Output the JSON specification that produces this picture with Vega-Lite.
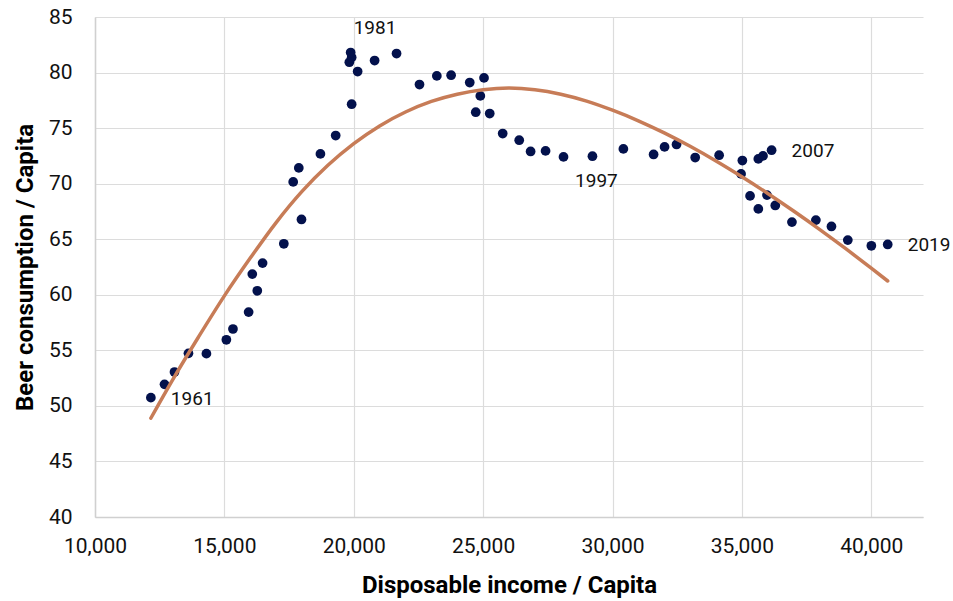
{
  "$schema": "https://vega.github.io/schema/vega-lite/v6.json",
  "width": 828,
  "height": 500,
  "autosize": {"type": "none"},
  "padding": {"left": 95, "top": 17, "right": 30, "bottom": 84},
  "background": "white",
  "config": {
    "view": {"stroke": null},
    "axis": {
      "labelFont": "Roboto",
      "labelFontSize": 21,
      "labelColor": "#111111",
      "labelFlush": false,
      "titleFont": "Roboto",
      "titleFontWeight": "bold",
      "titleFontSize": 24,
      "titleColor": "#000000",
      "ticks": false,
      "tickSize": 0,
      "domainColor": "#d0d0d0",
      "domainWidth": 1.5,
      "gridColor": "#dcdcdc",
      "gridWidth": 1.2
    }
  },
  "datasets": {
    "points": [
      {"income": 12159, "beer": 50.74, "label": "1961"},
      {"income": 12687, "beer": 51.94},
      {"income": 13072, "beer": 53.05},
      {"income": 13612, "beer": 54.73},
      {"income": 14306, "beer": 54.70},
      {"income": 15077, "beer": 55.95},
      {"income": 15332, "beer": 56.92},
      {"income": 15937, "beer": 58.44},
      {"income": 16079, "beer": 61.86},
      {"income": 16272, "beer": 60.36},
      {"income": 16477, "beer": 62.85},
      {"income": 17298, "beer": 64.59},
      {"income": 17660, "beer": 70.16},
      {"income": 17876, "beer": 71.42},
      {"income": 17980, "beer": 66.78},
      {"income": 18712, "beer": 72.68},
      {"income": 19302, "beer": 74.33},
      {"income": 19919, "beer": 77.15},
      {"income": 19830, "beer": 80.93},
      {"income": 19919, "beer": 81.35},
      {"income": 19881, "beer": 81.80, "label": "1981"},
      {"income": 20150, "beer": 80.09},
      {"income": 20806, "beer": 81.08},
      {"income": 21654, "beer": 81.71},
      {"income": 22541, "beer": 78.92},
      {"income": 23211, "beer": 79.70},
      {"income": 23763, "beer": 79.76},
      {"income": 24483, "beer": 79.10},
      {"income": 25035, "beer": 79.52},
      {"income": 24892, "beer": 77.90},
      {"income": 24715, "beer": 76.43},
      {"income": 25255, "beer": 76.31},
      {"income": 25756, "beer": 74.51},
      {"income": 26395, "beer": 73.91},
      {"income": 26835, "beer": 72.90},
      {"income": 27413, "beer": 72.95},
      {"income": 28107, "beer": 72.41},
      {"income": 29225, "beer": 72.47, "label": "1997"},
      {"income": 30420, "beer": 73.13},
      {"income": 31588, "beer": 72.63},
      {"income": 32012, "beer": 73.31},
      {"income": 32475, "beer": 73.53},
      {"income": 33196, "beer": 72.35},
      {"income": 34121, "beer": 72.56},
      {"income": 35019, "beer": 72.08},
      {"income": 35636, "beer": 72.23},
      {"income": 35817, "beer": 72.50},
      {"income": 36149, "beer": 73.01, "label": "2007"},
      {"income": 34969, "beer": 70.88},
      {"income": 35316, "beer": 68.90},
      {"income": 35636, "beer": 67.73},
      {"income": 35971, "beer": 68.97},
      {"income": 36291, "beer": 68.04},
      {"income": 36935, "beer": 66.54},
      {"income": 37860, "beer": 66.72},
      {"income": 38462, "beer": 66.15},
      {"income": 39094, "beer": 64.92},
      {"income": 40004, "beer": 64.41},
      {"income": 40636, "beer": 64.53, "label": "2019"}
    ],
    "trend": [
      {"income": 12159, "beer": 48.9},
      {"income": 13000, "beer": 52.35},
      {"income": 14000, "beer": 56.2},
      {"income": 15000, "beer": 59.9},
      {"income": 16000, "beer": 63.3},
      {"income": 17000, "beer": 66.5},
      {"income": 18000, "beer": 69.3},
      {"income": 19000, "beer": 71.65},
      {"income": 20000, "beer": 73.6},
      {"income": 21000, "beer": 75.2},
      {"income": 22000, "beer": 76.45},
      {"income": 23000, "beer": 77.4},
      {"income": 24000, "beer": 78.05},
      {"income": 25000, "beer": 78.45},
      {"income": 26000, "beer": 78.6},
      {"income": 27000, "beer": 78.45},
      {"income": 28000, "beer": 78.05},
      {"income": 29000, "beer": 77.43},
      {"income": 30000, "beer": 76.61},
      {"income": 31000, "beer": 75.66},
      {"income": 32000, "beer": 74.57},
      {"income": 33000, "beer": 73.36},
      {"income": 34000, "beer": 72.04},
      {"income": 35000, "beer": 70.62},
      {"income": 36000, "beer": 69.12},
      {"income": 37000, "beer": 67.54},
      {"income": 38000, "beer": 65.89},
      {"income": 39000, "beer": 64.17},
      {"income": 40000, "beer": 62.39},
      {"income": 40636, "beer": 61.24}
    ]
  },
  "data": {"name": "points"},
  "encoding": {
    "x": {
      "field": "income",
      "type": "quantitative",
      "scale": {"domain": [10000, 42000], "nice": false, "zero": false},
      "axis": {
        "title": "Disposable income / Capita",
        "values": [10000, 15000, 20000, 25000, 30000, 35000, 40000],
        "format": ",d",
        "labelPadding": 18,
        "titlePadding": 17
      }
    },
    "y": {
      "field": "beer",
      "type": "quantitative",
      "scale": {"domain": [40, 85], "nice": false, "zero": false},
      "axis": {
        "title": "Beer consumption / Capita",
        "values": [40, 45, 50, 55, 60, 65, 70, 75, 80, 85],
        "labelPadding": 23,
        "titlePadding": 11
      }
    }
  },
  "layer": [
    {
      "mark": {"type": "circle", "size": 95, "opacity": 1, "color": "#03114C"}
    },
    {
      "data": {"name": "trend"},
      "mark": {"type": "line", "color": "#C77C57", "strokeWidth": 3.5, "strokeCap": "round", "interpolate": "monotone"}
    },
    {
      "transform": [{"filter": "datum.label == '1961' || datum.label == '2007' || datum.label == '2019'"}],
      "mark": {"type": "text", "align": "left", "baseline": "middle", "dx": 20, "dy": 1, "font": "Roboto", "fontSize": 19, "color": "#111111"},
      "encoding": {"text": {"field": "label"}}
    },
    {
      "transform": [{"filter": "datum.label == '1981'"}],
      "mark": {"type": "text", "align": "left", "baseline": "middle", "dx": 3, "dy": -25, "font": "Roboto", "fontSize": 19, "color": "#111111"},
      "encoding": {"text": {"field": "label"}}
    },
    {
      "transform": [{"filter": "datum.label == '1997'"}],
      "mark": {"type": "text", "align": "center", "baseline": "middle", "dx": 4, "dy": 25, "font": "Roboto", "fontSize": 19, "color": "#111111"},
      "encoding": {"text": {"field": "label"}}
    }
  ]
}
